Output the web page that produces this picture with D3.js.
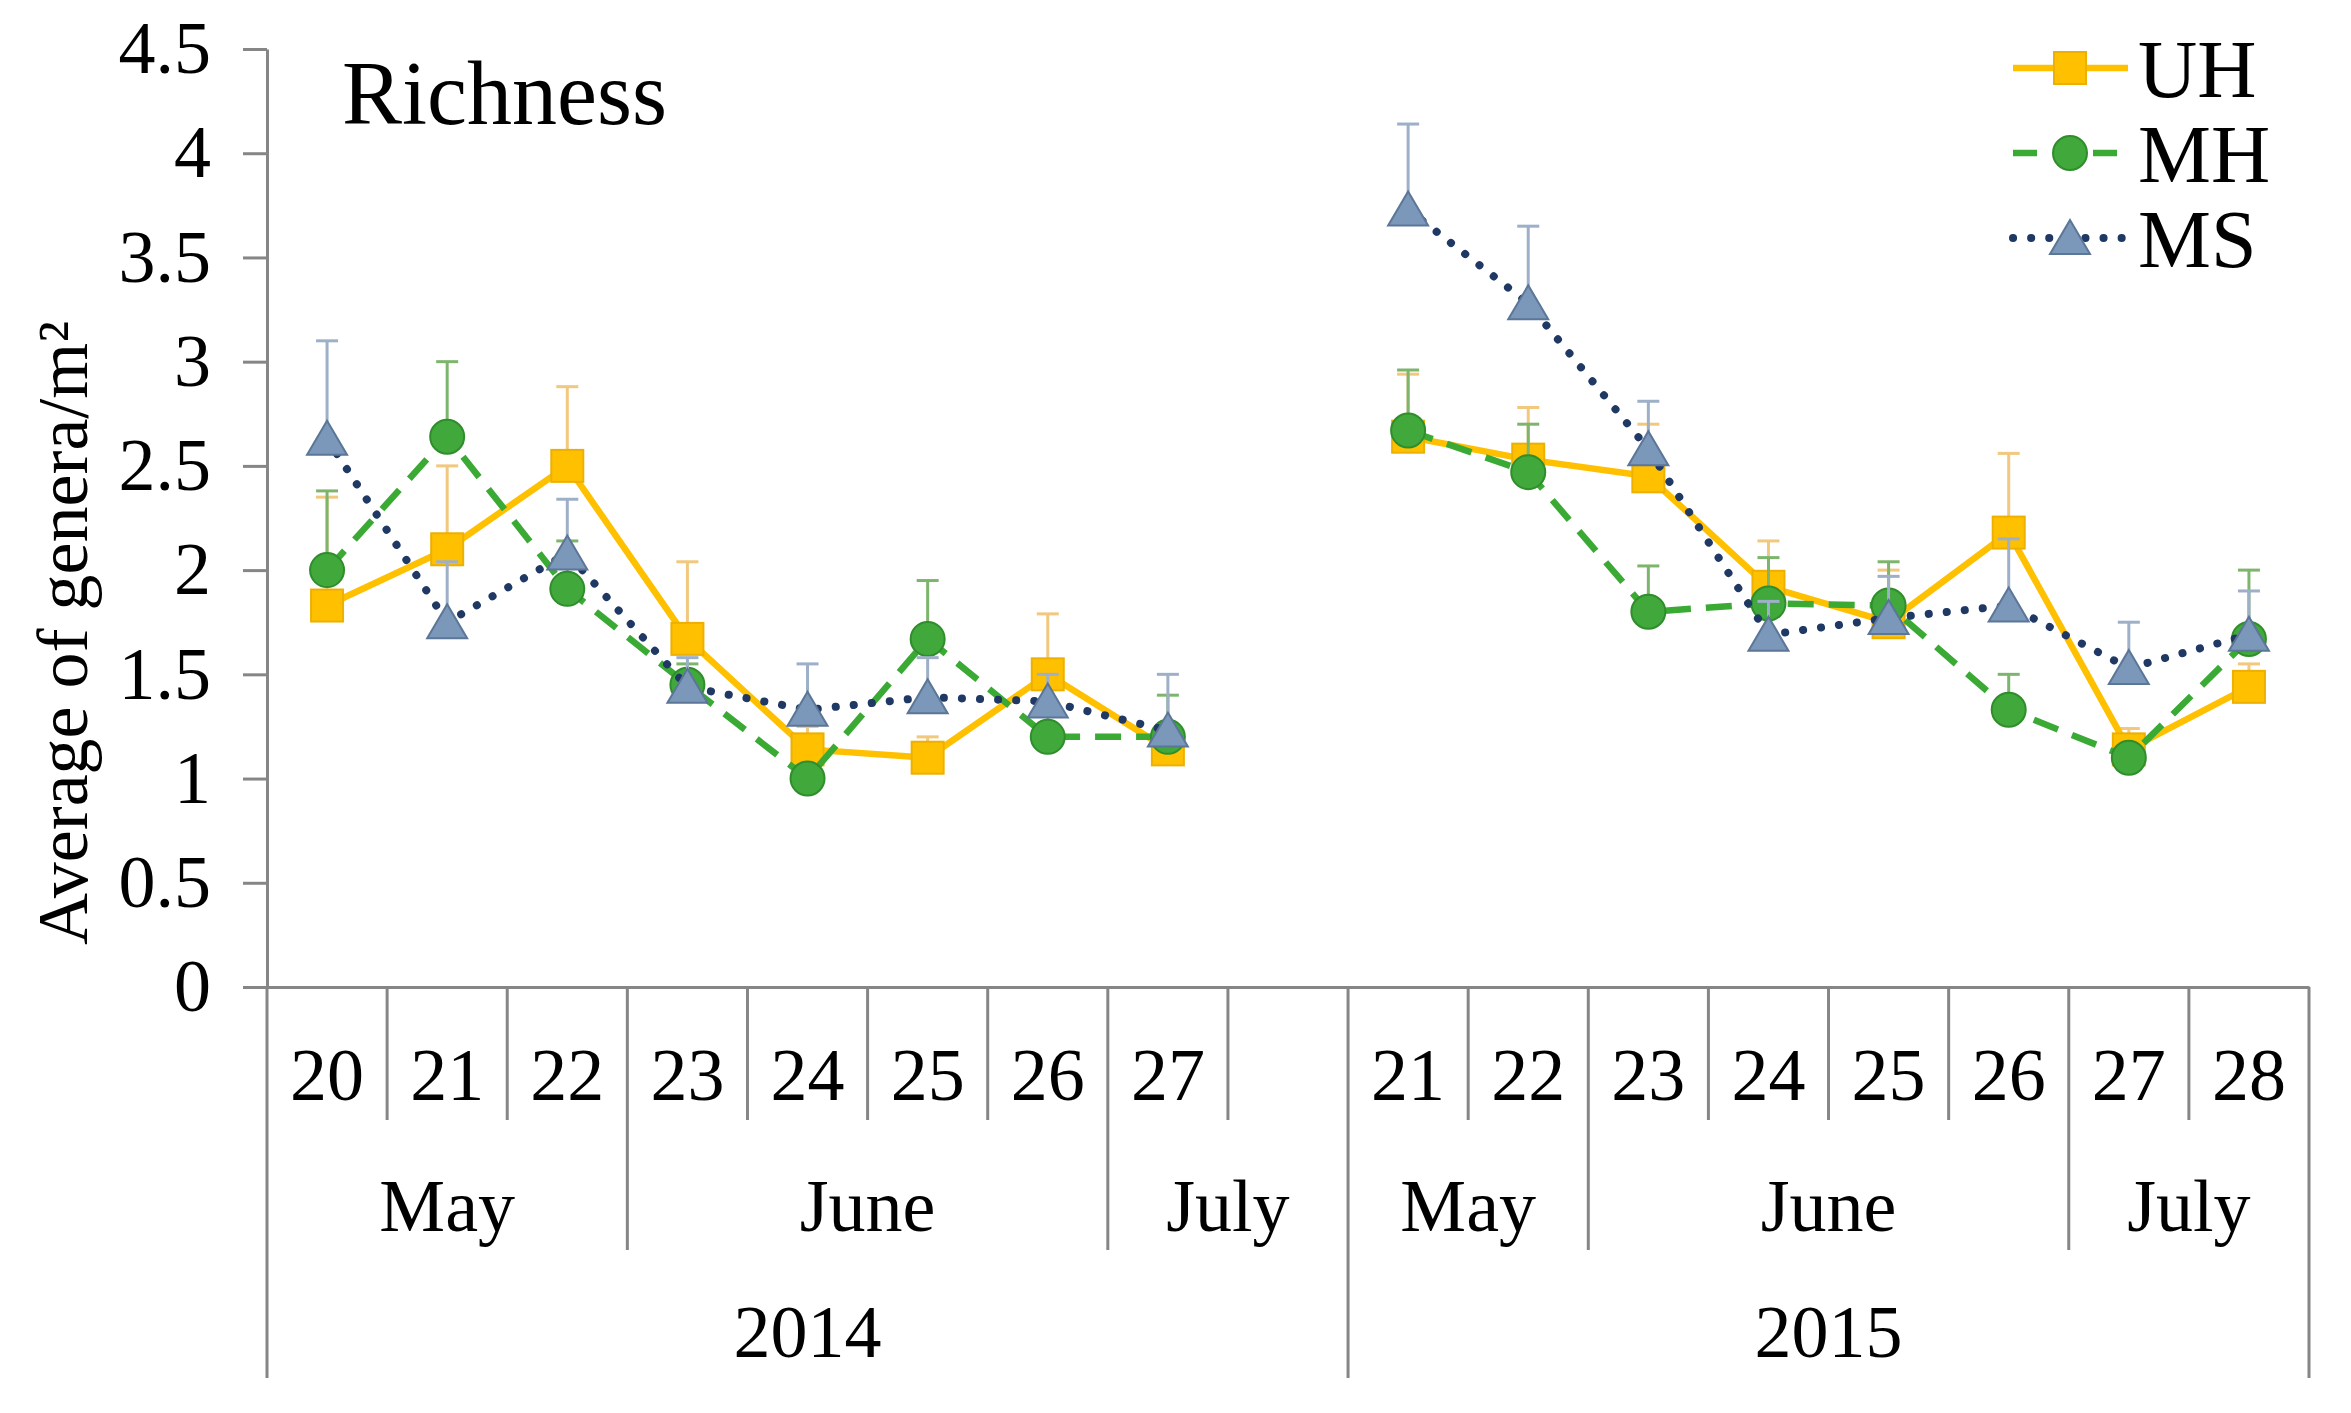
<!DOCTYPE html>
<html lang="en">
<head>
    <meta charset="UTF-8">
    <script src="https://d3js.org/d3.v7.min.js"></script>
    <title>Richness</title>
    <style>
        body { margin: 0; background: #fff; }
        text { font-family: "Liberation Serif", "Times New Roman", serif; fill: #000; }
    </style>
</head>
<body>

<script>
    // Category levels (one slot per sampling week, empty slot closes 2014)
    const dayLabels = ["20", "21", "22", "23", "24", "25", "26", "27", "",
                       "21", "22", "23", "24", "25", "26", "27", "28"];
    const monthLabels = ["May", "May", "May", "June", "June", "June", "June", "July", "July",
                         "May", "May", "June", "June", "June", "June", "July", "July"];
    const yearLabels = ["2014", "2014", "2014", "2014", "2014", "2014", "2014", "2014", "2014",
                        "2015", "2015", "2015", "2015", "2015", "2015", "2015", "2015"];

    const yTicks = [0, 0.5, 1, 1.5, 2, 2.5, 3, 3.5, 4, 4.5];
    const seriesNames = ["UH", "MH", "MS"];

    // Means (average of genera/m2)
    const uhValues = [1.83, 2.10, 2.50, 1.67, 1.14, 1.10, 1.50, 1.14, null, 2.64, 2.53, 2.45, 1.92, 1.75, 2.18, 1.14, 1.44];
    const mhValues = [2.00, 2.64, 1.91, 1.45, 1.00, 1.67, 1.20, 1.20, null, 2.67, 2.47, 1.80, 1.84, 1.83, 1.33, 1.10, 1.67];
    const msValues = [2.63, 1.75, 2.08, 1.44, 1.33, 1.39, 1.37, 1.23, null, 3.73, 3.28, 2.58, 1.69, 1.77, 1.83, 1.53, 1.69];

    // Upper error bars (standard error)
    const uhErrors = [0.52, 0.40, 0.38, 0.37, 0.11, 0.10, 0.29, 0.11, null, 0.30, 0.25, 0.25, 0.22, 0.25, 0.38, 0.10, 0.11];
    const mhErrors = [0.38, 0.36, 0.23, 0.10, 0.06, 0.28, 0.10, 0.20, null, 0.29, 0.23, 0.22, 0.22, 0.21, 0.17, 0.05, 0.33];
    const msErrors = [0.47, 0.29, 0.26, 0.14, 0.22, 0.19, 0.13, 0.27, null, 0.41, 0.37, 0.23, 0.16, 0.20, 0.32, 0.22, 0.21];

    const width = 2351, height = 1413;
    const plotLeft = 267, plotRight = 2309, plotTop = 49, plotBottom = 987;
    const dayBottom = 1120, monthBottom = 1250, yearBottom = 1378;
    const axisColor = "#868686";

    const svg = d3.select("body").append("svg")
        .attr("width", width)
        .attr("height", height);

    const x = d3.scaleBand()
        .domain(d3.range(dayLabels.length))
        .range([plotLeft, plotRight])
        .padding(0);

    const y = d3.scaleLinear()
        .domain([0, 4.5])
        .range([plotBottom, plotTop]);

    // y axis
    const yAxis = svg.append("g")
        .attr("transform", "translate(" + plotLeft + ",0)")
        .call(d3.axisLeft(y).tickValues(yTicks).tickSize(24).tickSizeOuter(0).tickPadding(32)
            .tickFormat(d => String(d)));
    yAxis.selectAll("path, line").attr("stroke", axisColor).attr("stroke-width", 3);
    yAxis.selectAll("text").attr("font-size", 74).attr("font-family", "Liberation Serif");

    svg.append("text")
        .attr("transform", "translate(63,633) rotate(-90)")
        .attr("text-anchor", "middle")
        .attr("dominant-baseline", "central")
        .attr("font-size", 72)
        .text("Average of genera/m²");

    // x axis: day labels through the band scale
    const xAxis = svg.append("g")
        .attr("transform", "translate(0," + plotBottom + ")")
        .call(d3.axisBottom(x).tickSize(0).tickPadding(0).tickFormat(i => dayLabels[i]));
    xAxis.select(".domain").attr("stroke", axisColor).attr("stroke-width", 3);
    xAxis.selectAll("text")
        .attr("font-size", 74)
        .attr("font-family", "Liberation Serif")
        .attr("dy", null)
        .attr("y", 1100 - plotBottom);

    // multi-level separators
    const sep = svg.append("g").attr("stroke", axisColor).attr("stroke-width", 3);
    sep.append("line")
        .attr("x1", plotLeft).attr("x2", plotLeft)
        .attr("y1", plotBottom).attr("y2", yearBottom);
    for (let i = 1; i <= dayLabels.length; i++) {
        const xb = x.range()[0] + i * x.step();
        let y2 = dayBottom;
        if (i === dayLabels.length || yearLabels[i] !== yearLabels[i - 1]) y2 = yearBottom;
        else if (monthLabels[i] !== monthLabels[i - 1]) y2 = monthBottom;
        sep.append("line")
            .attr("x1", xb).attr("x2", xb)
            .attr("y1", plotBottom).attr("y2", y2);
    }

    // group consecutive categories for month and year rows
    function runs(keys, labels) {
        const out = [];
        keys.forEach((k, i) => {
            const last = out[out.length - 1];
            if (last && last.key === k) last.end = i;
            else out.push({ key: k, label: labels[i], start: i, end: i });
        });
        return out;
    }

    const monthRuns = runs(monthLabels.map((m, i) => yearLabels[i] + m), monthLabels);
    const yearRuns = runs(yearLabels, yearLabels);

    svg.selectAll(".month").data(monthRuns).enter().append("text")
        .attr("class", "month")
        .attr("x", d => (x(d.start) + x(d.end) + x.bandwidth()) / 2)
        .attr("y", 1231)
        .attr("text-anchor", "middle")
        .attr("font-size", 74)
        .text(d => d.label);

    svg.selectAll(".year").data(yearRuns).enter().append("text")
        .attr("class", "year")
        .attr("x", d => (x(d.start) + x(d.end) + x.bandwidth()) / 2)
        .attr("y", 1357)
        .attr("text-anchor", "middle")
        .attr("font-size", 74)
        .text(d => d.label);

    // series styles
    const styles = {
        UH: { line: "#FFC000", dash: null, cap: "butt", width: 6.5, fill: "#FFC000", stroke: "#EDB000", err: "#F1C87E", shape: "square" },
        MH: { line: "#3AAA35", dash: "26 15", cap: "butt", width: 6.5, fill: "#41A83B", stroke: "#2F8E2B", err: "#7DB56C", shape: "circle" },
        MS: { line: "#1F3864", dash: "0.1 18", cap: "round", width: 8, fill: "#7B97B9", stroke: "#5B7697", err: "#9DB0C7", shape: "triangle" }
    };

    const seriesData = {
        UH: { values: uhValues, errors: uhErrors },
        MH: { values: mhValues, errors: mhErrors },
        MS: { values: msValues, errors: msErrors }
    };

    function drawMarker(g, shape, st) {
        if (shape === "square") {
            g.append("rect").attr("x", -16).attr("y", -16).attr("width", 32).attr("height", 32)
                .attr("fill", st.fill).attr("stroke", st.stroke).attr("stroke-width", 2);
        } else if (shape === "circle") {
            g.append("circle").attr("r", 17)
                .attr("fill", st.fill).attr("stroke", st.stroke).attr("stroke-width", 2);
        } else {
            g.append("path").attr("d", "M0,-18L20,16L-20,16Z")
                .attr("fill", st.fill).attr("stroke", st.stroke).attr("stroke-width", 2);
        }
    }

    const cx = i => x(i) + x.bandwidth() / 2;

    const line = d3.line()
        .defined(d => d.v !== null)
        .x(d => cx(d.i))
        .y(d => y(d.v));

    seriesNames.forEach(name => {
        const st = styles[name];
        const pts = seriesData[name].values.map((v, i) => ({ i: i, v: v, e: seriesData[name].errors[i] }));
        const valid = pts.filter(d => d.v !== null);
        const g = svg.append("g");

        // error bars (upper only, with cap)
        const eb = g.append("g").attr("stroke", st.err).attr("stroke-width", 3);
        valid.forEach(d => {
            eb.append("line").attr("x1", cx(d.i)).attr("x2", cx(d.i))
                .attr("y1", y(d.v)).attr("y2", y(d.v + d.e));
            eb.append("line").attr("x1", cx(d.i) - 11).attr("x2", cx(d.i) + 11)
                .attr("y1", y(d.v + d.e)).attr("y2", y(d.v + d.e));
        });

        g.append("path")
            .datum(pts)
            .attr("fill", "none")
            .attr("stroke", st.line)
            .attr("stroke-width", st.width)
            .attr("stroke-linecap", st.cap)
            .attr("stroke-linejoin", "round")
            .attr("stroke-dasharray", st.dash)
            .attr("d", line);

        valid.forEach(d => {
            drawMarker(g.append("g").attr("transform", "translate(" + cx(d.i) + "," + y(d.v) + ")"), st.shape, st);
        });
    });

    // title
    svg.append("text")
        .attr("x", 342)
        .attr("y", 124)
        .attr("font-size", 90)
        .text("Richness");

    // legend
    const legendY = [68, 153, 238];
    seriesNames.forEach((name, k) => {
        const st = styles[name];
        const lg = svg.append("g").attr("transform", "translate(0," + legendY[k] + ")");
        lg.append("line")
            .attr("x1", 2013).attr("x2", 2128)
            .attr("stroke", st.line)
            .attr("stroke-width", st.width)
            .attr("stroke-linecap", st.cap)
            .attr("stroke-dasharray", name === "MH" ? "24 16" : st.dash);
        drawMarker(lg.append("g").attr("transform", "translate(2070,0)"), st.shape, st);
        lg.append("text")
            .attr("x", 2138)
            .attr("y", 29)
            .attr("font-size", 82)
            .text(name);
    });
</script>

</body>
</html>
